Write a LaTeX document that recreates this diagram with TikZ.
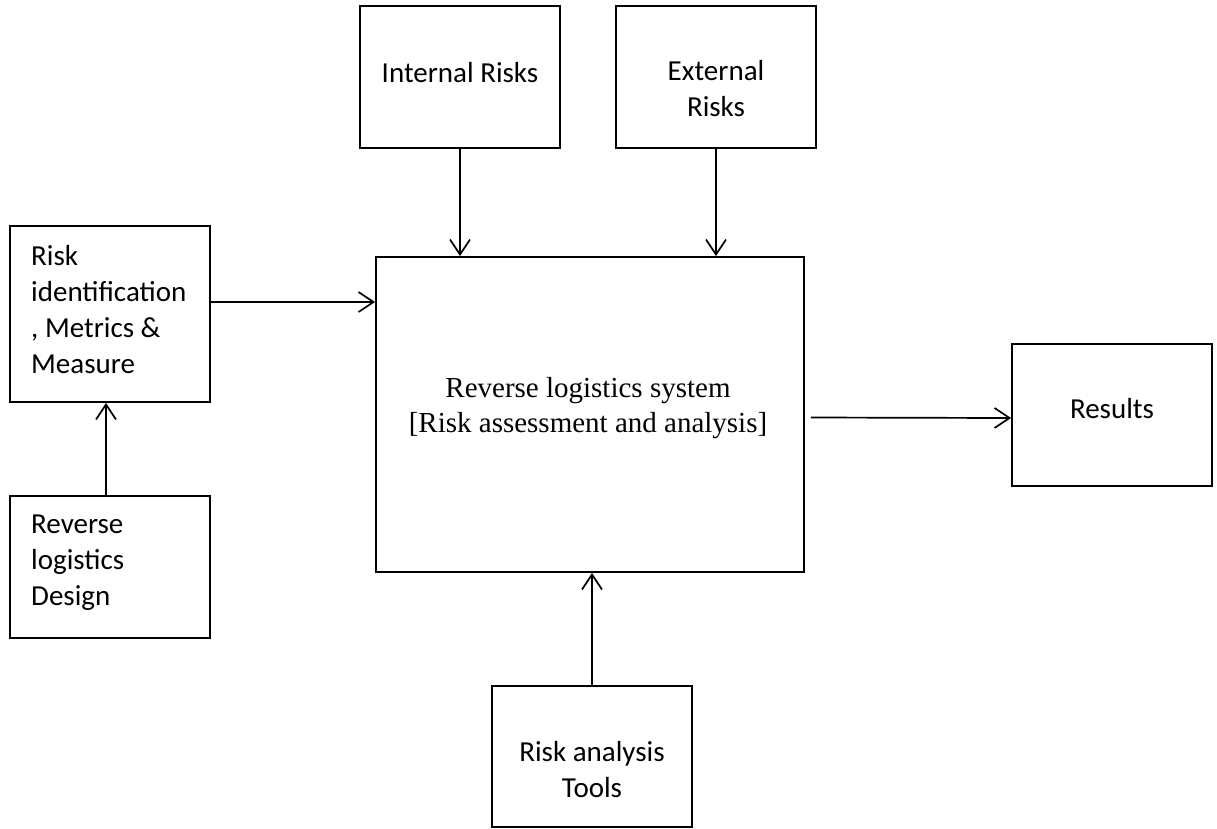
\documentclass[tikz,border=0pt]{standalone}
\usepackage{fontspec}
\setmainfont{Carlito}
\newfontfamily\serifrm{Liberation Serif}
\usetikzlibrary{arrows.meta}

\tikzset{
  box/.style={draw=black, line width=1.9pt, fill=white, inner sep=0pt},
  boxtext/.style={inner sep=0pt, anchor=base, font=\fontsize{29}{36}\selectfont},
  lefttext/.style={boxtext, anchor=base west, align=left},
  flow/.style={line width=1.7pt, -{Straight Barb[length=15pt,width=20pt,line width=1.7pt]}}
}

\begin{document}
\begin{tikzpicture}[x=1pt, y=-1pt]
\useasboundingbox (0,0) rectangle (1217,828);

% boxes
\node[box, minimum width=200pt, minimum height=142pt] (int)   at (460,77)    {};
\node[box, minimum width=200pt, minimum height=142pt] (ext)   at (716,77)    {};
\node[box, minimum width=200pt, minimum height=176pt] (rid)   at (110,314)   {};
\node[box, minimum width=200pt, minimum height=142pt] (rld)   at (110,567)   {};
\node[box, minimum width=428pt, minimum height=315pt] (main)  at (590,414.5) {};
\node[box, minimum width=200pt, minimum height=142pt] (res)   at (1112,415)  {};
\node[box, minimum width=200pt, minimum height=141pt] (tools) at (592,756.5) {};

% texts (multi-line nodes are placed by the baseline of their last line)
\node[boxtext] (intT) at (460,82) {Internal Risks};
\node[boxtext, align=center] (extT) at (716,116) {External\\Risks};
\node[lefttext] (ridT) at (31,373) {Risk\\identification\\, Metrics \&\\Measure};
\node[lefttext] (rldT) at (31,605) {Reverse\\logistics\\Design};
\node[boxtext, align=center, font=\serifrm\fontsize{29}{35}\selectfont] (mainT) at (588,432)
  {Reverse logistics system\\{[}Risk assessment and analysis{]}};
\node[boxtext] (resT) at (1112,418) {Results};
\node[boxtext, align=center] (toolsT) at (592,797) {Risk analysis\\Tools};

% connectors
\draw[flow] (int.south) -- (int.south |- main.north);
\draw[flow] (ext.south) -- (ext.south |- main.north);
\draw[flow] ([yshift=12pt]rid.east) -- ([yshift=12pt]rid.east -| main.west);
\draw[flow] ([xshift=-4pt]rld.north) -- ([xshift=-4pt]rid.south);
\draw[flow] ([xshift=6pt,yshift=-3pt]main.east) -- ([yshift=-3pt]res.west);
\draw[flow] (tools.north) -- (tools.north |- main.south);
\end{tikzpicture}
\end{document}
